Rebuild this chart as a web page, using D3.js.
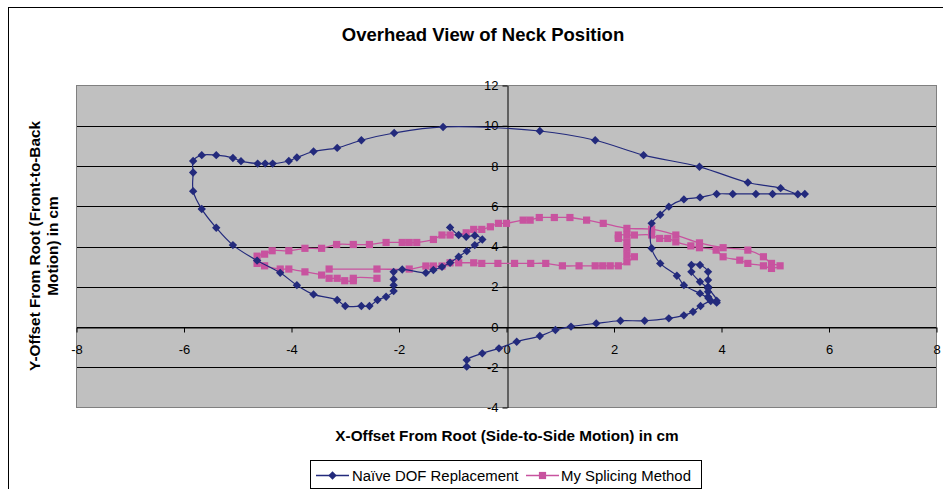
<!DOCTYPE html>
<html>
<head>
<meta charset="utf-8">
<script src="https://cdn.jsdelivr.net/npm/d3@7"></script>
<style>
  html, body { margin: 0; padding: 0; background: #fff; }
  svg { display: block; font-family: "Liberation Sans", Arial, sans-serif; }
</style>
</head>
<body>
<svg id="chart" width="943" height="489"></svg>
<script>
const chartTitle = "Overhead View of Neck Position";
const xTitle = "X-Offset From Root (Side-to-Side Motion) in cm";
const yTitleLines = ["Y-Offset From Root (Front-to-Back", "Motion) in cm"];
const seriesNames = ["Naïve DOF Replacement", "My Splicing Method"];

const xTicks = [-8, -6, -4, -2, 0, 2, 4, 6, 8];
const yTicks = [-4, -2, 0, 2, 4, 6, 8, 10, 12];

const naiveX = [-0.74,-0.74,-0.45,-0.14,0.19,0.62,0.91,1.20,1.67,2.12,2.57,3.02,3.30,3.47,3.61,3.80,3.91,3.75,3.75,3.75,3.75,3.75,3.60,3.44,3.44,3.60,3.75,3.91,3.76,3.60,3.30,3.17,2.86,2.70,2.70,2.86,3.02,3.30,3.60,3.91,4.21,4.64,4.95,5.55,5.42,5.10,4.49,3.59,2.55,1.65,0.62,-1.18,-2.09,-2.70,-3.15,-3.59,-3.90,-4.05,-4.35,-4.49,-4.63,-4.94,-5.09,-5.40,-5.67,-5.83,-5.83,-5.83,-5.67,-5.40,-5.09,-4.64,-4.21,-3.90,-3.59,-3.15,-3.00,-2.70,-2.55,-2.40,-2.24,-2.10,-2.10,-2.10,-2.10,-1.94,-1.50,-1.36,-1.20,-1.05,-0.89,-0.74,-0.59,-0.45,-0.59,-0.75,-0.89,-1.05];
const naiveY = [-1.97,-1.64,-1.31,-1.06,-0.73,-0.45,-0.15,0.02,0.18,0.31,0.31,0.43,0.58,0.76,1.04,1.29,1.21,1.50,1.75,2.00,2.33,2.74,3.08,3.08,2.74,2.25,1.92,1.31,1.43,1.67,2.08,2.55,3.16,3.91,5.15,5.58,5.98,6.34,6.44,6.61,6.61,6.61,6.61,6.61,6.60,6.90,7.18,7.96,8.54,9.28,9.74,9.94,9.64,9.28,8.90,8.72,8.42,8.25,8.12,8.12,8.12,8.24,8.40,8.54,8.54,8.25,7.68,6.75,5.86,4.93,4.07,3.30,2.69,2.08,1.62,1.34,1.04,1.04,1.04,1.34,1.50,1.79,2.08,2.37,2.74,2.86,2.69,2.83,2.99,3.19,3.49,3.77,4.07,4.35,4.55,4.48,4.57,4.95];

const spliceX = [-2.41,-2.85,-2.85,-3.01,-3.15,-3.30,-3.44,-3.75,-4.05,-4.21,-4.50,-4.64,-4.64,-4.50,-4.36,-4.05,-3.75,-3.44,-3.16,-2.85,-2.55,-2.24,-1.94,-1.81,-1.67,-1.36,-1.20,-1.05,-0.75,-0.61,-0.46,-0.30,-0.15,0.00,0.31,0.44,0.61,0.89,1.18,1.49,1.80,2.24,2.70,3.15,3.59,4.03,4.49,4.78,4.93,5.09,4.93,4.78,4.49,4.34,4.03,3.90,3.59,3.43,3.15,3.00,2.85,2.70,2.38,2.24,2.08,2.08,2.24,2.24,2.24,2.38,2.24,2.08,1.93,1.79,1.65,1.35,1.04,0.73,0.45,0.15,-0.16,-0.46,-0.61,-0.89,-1.05,-1.20,-1.36,-1.50,-1.81,-2.41,-3.30];
const spliceY = [2.42,2.42,2.30,2.30,2.42,2.42,2.58,2.74,2.88,2.88,3.04,3.16,3.52,3.62,3.79,3.79,3.91,3.91,4.10,4.10,4.10,4.20,4.20,4.20,4.20,4.35,4.57,4.57,4.68,4.85,4.85,4.98,5.15,5.15,5.31,5.31,5.44,5.44,5.44,5.31,5.15,4.90,4.86,4.57,4.18,3.94,3.82,3.49,3.16,3.04,2.91,3.04,3.16,3.32,3.49,3.82,3.94,4.03,4.23,4.40,4.40,4.57,4.57,4.57,4.57,4.40,4.23,3.91,3.57,3.49,3.24,3.04,3.04,3.04,3.04,3.04,3.04,3.16,3.16,3.16,3.16,3.16,3.19,3.19,3.19,3.03,3.03,3.03,2.88,2.88,2.88];

const naiveColor = "#232A7C";
const spliceColor = "#C8539F";

const svg = d3.select("#chart");

// outer chart border (extends beyond the viewport at right/bottom)
svg.append("rect").attr("x", 8.5).attr("y", 7.5).attr("width", 960).attr("height", 520)
  .attr("fill", "#fff").attr("stroke", "#000").attr("stroke-width", 1);

const x = d3.scaleLinear().domain([-8, 8]).range([76.5, 936.5]);
const y = d3.scaleLinear().domain([-4, 12]).range([407.5, 85.5]);

// plot area
svg.append("rect")
  .attr("x", x(-8)).attr("y", y(12))
  .attr("width", x(8) - x(-8)).attr("height", y(-4) - y(12))
  .attr("fill", "#C0C0C0");

// gridlines
svg.append("g").selectAll("line").data(yTicks.filter(d => d > -4 && d < 12)).join("line")
  .attr("x1", x(-8)).attr("x2", x(8))
  .attr("y1", d => Math.round(y(d)) + 0.5).attr("y2", d => Math.round(y(d)) + 0.5)
  .attr("stroke", "#000").attr("stroke-width", 1);

svg.append("rect")
  .attr("x", x(-8)).attr("y", y(12))
  .attr("width", x(8) - x(-8)).attr("height", y(-4) - y(12))
  .attr("fill", "none").attr("stroke", "#808080").attr("stroke-width", 1);

// axes crossing at origin
const fmt = d => String(d);
const yAxis = svg.append("g")
  .attr("transform", `translate(${Math.round(x(0)) + 0.5},0)`)
  .call(d3.axisLeft(y).tickValues(yTicks).tickSize(5).tickSizeOuter(0).tickPadding(4).tickFormat(fmt));
const xAxis = svg.append("g")
  .attr("transform", `translate(0,${Math.round(y(0)) + 0.5})`)
  .call(d3.axisBottom(x).tickValues(xTicks).tickSize(5).tickSizeOuter(0).tickPadding(12).tickFormat(fmt));

[xAxis, yAxis].forEach(g => {
  g.selectAll("path.domain").attr("stroke", "#000");
  g.selectAll(".tick line").attr("stroke", "#000");
  g.selectAll("text").attr("fill", "#000")
    .style("font-family", '"Liberation Sans", Arial, sans-serif').style("font-size", "13px");
});

// series
const naive = naiveX.map((v, i) => [v, naiveY[i]]);
const splice = spliceX.map((v, i) => [v, spliceY[i]]);
const line = d3.line().x(d => x(d[0])).y(d => y(d[1])).curve(d3.curveCatmullRom.alpha(0.5));

const diamond = "M0,-4.2L4.2,0L0,4.2L-4.2,0Z";
const square = "M-3.6,-3.6H3.6V3.6H-3.6Z";

svg.append("path").datum(splice).attr("d", line)
  .attr("fill", "none").attr("stroke", spliceColor).attr("stroke-width", 1.3);
svg.append("g").selectAll("path").data(splice).join("path")
  .attr("d", square).attr("transform", d => `translate(${x(d[0])},${y(d[1])})`)
  .attr("fill", spliceColor);

svg.append("path").datum(naive).attr("d", line)
  .attr("fill", "none").attr("stroke", naiveColor).attr("stroke-width", 1.2);
svg.append("g").selectAll("path").data(naive).join("path")
  .attr("d", diamond).attr("transform", d => `translate(${x(d[0])},${y(d[1])})`)
  .attr("fill", naiveColor);

// titles
svg.append("text").attr("x", 483).attr("y", 41).attr("text-anchor", "middle")
  .style("font-size", "18.5px").style("font-weight", "bold").text(chartTitle);

svg.append("text").attr("x", 507).attr("y", 441).attr("text-anchor", "middle")
  .style("font-size", "15.3px").style("font-weight", "bold").text(xTitle);

const yt = svg.append("text").attr("transform", "translate(0,246) rotate(-90)")
  .attr("text-anchor", "middle").style("font-size", "15.3px").style("font-weight", "bold");
yTitleLines.forEach((t, i) => {
  yt.append("tspan").attr("x", 0).attr("y", 40 + i * 18).text(t);
});

// legend
const lg = svg.append("g");
lg.append("rect").attr("x", 310.5).attr("y", 460.5).attr("width", 391).attr("height", 28)
  .attr("fill", "#fff").attr("stroke", "#000");
const items = [
  { name: seriesNames[0], color: naiveColor, mark: diamond, x0: 316, tx: 352 },
  { name: seriesNames[1], color: spliceColor, mark: square, x0: 526, tx: 561 }
];
items.forEach(it => {
  lg.append("line").attr("x1", it.x0).attr("x2", it.x0 + 33).attr("y1", 475.5).attr("y2", 475.5)
    .attr("stroke", it.color).attr("stroke-width", 1.3);
  lg.append("path").attr("d", it.mark).attr("transform", `translate(${it.x0 + 16.5},475.5)`)
    .attr("fill", it.color);
  lg.append("text").attr("x", it.tx).attr("y", 480.5).style("font-size", "14.9px").text(it.name);
});
</script>
</body>
</html>
